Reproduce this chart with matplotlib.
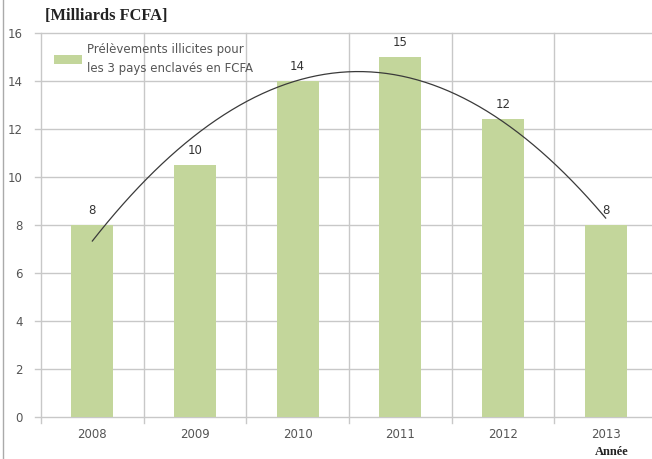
import numpy as np
import matplotlib
matplotlib.use("Agg")
import matplotlib.pyplot as plt
from matplotlib.lines import Line2D

years = ["2008", "2009", "2010", "2011", "2012", "2013"]
values = [8, 10.5, 14, 15, 12.4, 8]
y_ticks = [0, 2, 4, 6, 8, 10, 12, 14, 16]
series_name = "Prélèvements illicites pour\nles 3 pays enclavés en FCFA"
unit_label = "[Milliards FCFA]"
axis_label = "Année"

bar_color = "#c3d69b"
grid_color = "#c8c8c8"
text_color = "#555555"

plt.rcParams["font.family"] = ["DejaVu Sans"]

W, H = 652, 459
fig = plt.figure(figsize=(W / 100, H / 100), dpi=100)
ax = fig.add_axes([41 / W, 42 / H, 616 / W, 384 / H])

x = np.arange(len(years))
ax.bar(x, values, width=0.41, color=bar_color, zorder=3,
       label=series_name)

# value labels above each bar
for xi, v in zip(x, values):
    ax.text(xi, v + 0.35, f"{v:.0f}", ha="center", va="bottom",
            fontsize=8.5, color="#333333", zorder=5)

# second-order polynomial trend line
coef = np.polyfit(x, values, 2)
xs = np.linspace(x[0], x[-1], 200)
ax.plot(xs, np.polyval(coef, xs), color="#3a3a3a", lw=0.9, zorder=4)

ax.set_xlim(-0.5, len(years) - 0.5)
ax.set_ylim(0, 16)
ax.set_yticks(y_ticks)
ax.set_yticklabels([str(t) for t in y_ticks])
ax.set_xticks(x)
ax.set_xticklabels(years)
ax.tick_params(axis="both", length=0, labelsize=8.5, colors=text_color)
ax.tick_params(axis="y", pad=13)
ax.tick_params(axis="x", pad=8)

# grid: horizontal at every tick, vertical at category boundaries
for t in y_ticks:
    ax.plot([-0.56, len(years) - 0.5], [t, t], color=grid_color, lw=1,
            zorder=1, clip_on=False)
for b in np.arange(-0.5, len(years), 1.0):
    ax.plot([b, b], [-0.25, 16], color=grid_color,
            lw=1, zorder=1, clip_on=False)

for s in ax.spines.values():
    s.set_visible(False)

leg = ax.legend(loc="upper left", bbox_to_anchor=(0.005, 1.0), frameon=False,
                fontsize=8.5, handlelength=2.4, handleheight=0.8,
                handletextpad=0.35, borderaxespad=0.45)
for t in leg.get_texts():
    t.set_color(text_color)
    t.set_linespacing(1.6)

fig.text(45 / W, 1 - 16 / H, unit_label, fontsize=11.8, fontweight="bold",
         family="Liberation Serif", color="#222222", va="center", ha="left")
fig.text(612 / W, 1 - 452 / H, axis_label, fontsize=9, fontweight="bold",
         family="Liberation Serif", color="#222222", va="center", ha="center")

fig.add_artist(Line2D([3 / W, 3 / W], [0, 1], color="#aaaaaa", lw=1,
                      transform=fig.transFigure))

fig.savefig("out.png", dpi=100)
